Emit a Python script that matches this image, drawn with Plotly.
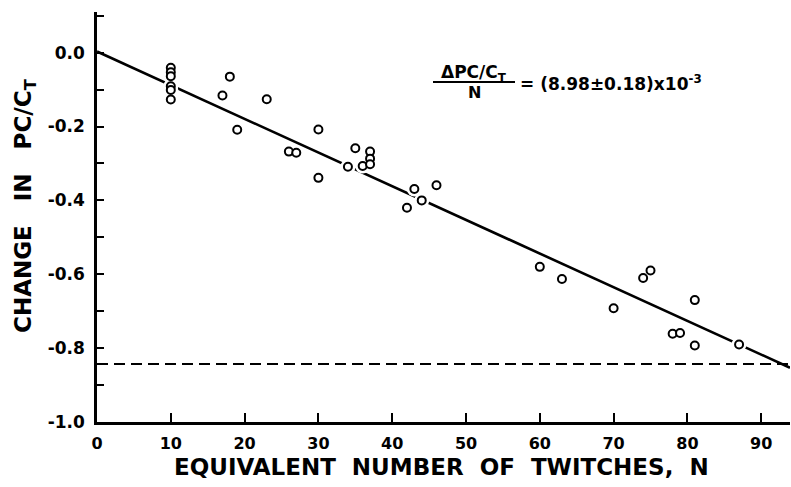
import plotly.graph_objects as go

# ---- data ----
twitches_n = [10, 10, 10, 10, 10, 10, 17, 18, 19, 23, 26, 27, 30, 30, 34, 35, 36,
              37, 37, 37, 42, 43, 44, 46, 60, 63, 70, 74, 75, 78, 79, 81, 81, 87]
change_pc = [-0.041, -0.053, -0.064, -0.091, -0.101, -0.127, -0.116, -0.065, -0.209,
             -0.126, -0.268, -0.271, -0.208, -0.339, -0.309, -0.259, -0.307,
             -0.268, -0.287, -0.302, -0.420, -0.369, -0.400, -0.359,
             -0.580, -0.613, -0.692, -0.610, -0.590, -0.761, -0.759, -0.670, -0.793, -0.790]
fit_n = [0, 93.9]
fit_y = [0.003, -0.853]
limit_n = [0, 93.9]
limit_y = [-0.843, -0.843]

x_ticks = [0, 10, 20, 30, 40, 50, 60, 70, 80, 90]
x_ticktext = ["0", "10", "20", "30", "40", "50", "60", "70", "80", "90"]
y_ticks = [0.0, -0.2, -0.4, -0.6, -0.8, -1.0]
y_ticktext = ["0.0", "-0.2", "-0.4", "-0.6", "-0.8", "-1.0"]

x_title = "EQUIVALENT\u00a0\u00a0NUMBER\u00a0\u00a0OF\u00a0\u00a0TWITCHES,\u00a0\u00a0N"
y_title = "CHANGE\u00a0\u00a0\u00a0IN\u00a0\u00a0\u00a0PC/C<sub>T</sub>"
frac_num = "\u0394PC/C<sub>T</sub>"
frac_den = "N"
frac_rhs = "= (8.98\u00b10.18)x10<sup>-3</sup>"

FONT = "DejaVu Sans"
W, H = 791, 487
L, R, T, B = 97, 1, 12, 65
pw, ph = W - L - R, H - T - B


def px(xp):
    return (xp - L) / pw


def py(yp):
    return (H - B - yp) / ph


fig = go.Figure()
fig.add_trace(go.Scatter(x=fit_n, y=fit_y, mode="lines",
                         line=dict(color="black", width=2.6), hoverinfo="skip"))
fig.add_trace(go.Scatter(x=limit_n, y=limit_y, mode="lines",
                         line=dict(color="black", width=2, dash="11px,6px"), hoverinfo="skip"))
# white halo (drafting gaps in line around points)
fig.add_trace(go.Scatter(x=twitches_n, y=change_pc, mode="markers",
                         marker=dict(symbol="circle", size=15, color="white",
                                     line=dict(width=0)), hoverinfo="skip"))
fig.add_trace(go.Scatter(x=twitches_n, y=change_pc, mode="markers",
                         marker=dict(symbol="circle", size=8, color="white",
                                     line=dict(color="black", width=2))))

fig.update_layout(
    width=W, height=H, showlegend=False,
    margin=dict(l=L, r=R, t=T, b=B),
    paper_bgcolor="white", plot_bgcolor="white",
    font=dict(family=FONT, color="black", weight="bold"),
    xaxis=dict(range=[0, 93.9], showgrid=False, zeroline=False,
               showline=True, linecolor="black", linewidth=2.5,
               tickmode="array", tickvals=x_ticks, ticktext=x_ticktext,
               ticks="inside", ticklen=9, tickwidth=2, tickcolor="black",
               tickfont=dict(size=16, family=FONT, weight="bold"), ticklabelstandoff=5),
    yaxis=dict(range=[-1.0, 0.11], showgrid=False, zeroline=False,
               showline=True, linecolor="black", linewidth=2.5,
               tickmode="array", tickvals=y_ticks, ticktext=y_ticktext,
               ticks="inside", ticklen=7, tickwidth=2, tickcolor="black",
               minor=dict(dtick=0.1, ticks="inside", ticklen=7, tickwidth=2,
                          tickcolor="black", showgrid=False),
               tickfont=dict(size=17, family=FONT, weight="bold"), ticklabelstandoff=6),
)

fig.add_annotation(text=x_title, xref="paper", yref="paper",
                   x=px(441), y=py(467), xanchor="center", yanchor="middle",
                   showarrow=False, font=dict(size=23, family=FONT, weight="bold"))
fig.add_annotation(text=y_title, xref="paper", yref="paper", textangle=-90,
                   x=px(25), y=py(206), xanchor="center", yanchor="middle",
                   showarrow=False, font=dict(size=23, family=FONT, weight="bold"))
fig.add_annotation(text=frac_num, xref="paper", yref="paper",
                   x=px(474), y=py(73), xanchor="center", yanchor="middle",
                   showarrow=False, font=dict(size=17, family=FONT, weight="bold"))
fig.add_annotation(text=frac_den, xref="paper", yref="paper",
                   x=px(474), y=py(93), xanchor="center", yanchor="middle",
                   showarrow=False, font=dict(size=16, family=FONT, weight="bold"))
fig.add_annotation(text=frac_rhs, xref="paper", yref="paper",
                   x=px(518), y=py(83), xanchor="left", yanchor="middle",
                   showarrow=False, font=dict(size=17, family=FONT, weight="bold"))
fig.add_shape(type="line", xref="paper", yref="paper",
              x0=px(433), x1=px(515), y0=py(82), y1=py(82),
              line=dict(color="black", width=2))

fig.write_html("out.html", config={"displayModeBar": False},
               post_script="document.body.style.margin='0';")
